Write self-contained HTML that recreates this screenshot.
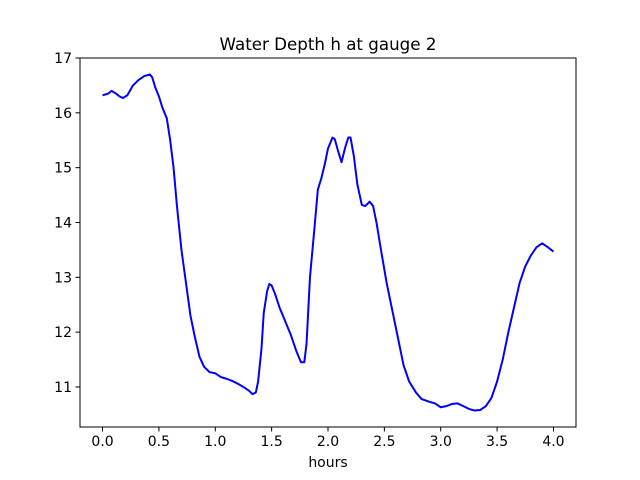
<!DOCTYPE html>
<html><head><meta charset="utf-8"><style>
body{margin:0;background:#fff}
svg{display:block;font-family:"DejaVu Sans","Liberation Sans",sans-serif}
</style></head><body>
<svg id="chart" width="640" height="480">
<rect width="640" height="480" fill="#fff"/>
</svg>
<script>
const times=[0,0.05,0.08,0.12,0.15,0.18,0.22,0.27,0.32,0.37,0.42,0.44,0.47,0.5,0.53,0.57,0.6,0.63,0.66,0.7,0.74,0.78,0.82,0.86,0.9,0.95,1.0,1.05,1.1,1.15,1.2,1.25,1.3,1.33,1.36,1.38,1.41,1.43,1.46,1.48,1.5,1.53,1.57,1.62,1.67,1.72,1.76,1.79,1.81,1.84,1.88,1.91,1.94,1.97,2.0,2.04,2.06,2.09,2.12,2.15,2.18,2.2,2.23,2.26,2.3,2.33,2.37,2.4,2.43,2.47,2.52,2.57,2.62,2.67,2.72,2.78,2.83,2.9,2.95,3.0,3.05,3.1,3.15,3.2,3.25,3.3,3.35,3.4,3.45,3.5,3.55,3.6,3.65,3.7,3.75,3.8,3.85,3.9,3.95,4.0];
const depth=[16.32,16.35,16.4,16.35,16.3,16.27,16.32,16.5,16.6,16.67,16.7,16.65,16.45,16.3,16.1,15.9,15.5,15.0,14.3,13.5,12.9,12.3,11.9,11.55,11.37,11.27,11.25,11.18,11.15,11.11,11.06,11.0,10.93,10.87,10.9,11.1,11.7,12.35,12.75,12.88,12.85,12.7,12.45,12.2,11.95,11.65,11.45,11.45,11.8,13.0,13.9,14.6,14.8,15.05,15.35,15.55,15.52,15.3,15.1,15.35,15.55,15.55,15.2,14.7,14.32,14.3,14.38,14.3,14.0,13.5,12.9,12.4,11.9,11.4,11.1,10.9,10.78,10.73,10.7,10.63,10.65,10.69,10.7,10.65,10.6,10.57,10.58,10.65,10.8,11.1,11.5,12.0,12.45,12.9,13.2,13.4,13.55,13.62,13.55,13.47];
const xTicks=[0,0.5,1,1.5,2,2.5,3,3.5,4];
const xTickLabels=["0.0","0.5","1.0","1.5","2.0","2.5","3.0","3.5","4.0"];
const yTicks=[11,12,13,14,15,16,17];
const yTickLabels=["11","12","13","14","15","16","17"];
const L=80,R=576,T=58,B=427;
const xMin=-0.2,xMax=4.2,yMin=10.27,yMax=17.0;
const sx=v=>L+(v-xMin)/(xMax-xMin)*(R-L);
const sy=v=>B-(v-yMin)/(yMax-yMin)*(B-T);
const svg=document.getElementById('chart');
const NS='http://www.w3.org/2000/svg';
function mk(tag,attrs,parent){const e=document.createElementNS(NS,tag);for(const k in attrs)e.setAttribute(k,attrs[k]);(parent||svg).appendChild(e);return e;}
const line=mk('polyline',{points:times.map((t,i)=>sx(t).toFixed(2)+','+sy(depth[i]).toFixed(2)).join(' '),fill:'none',stroke:'#0000ff','stroke-width':2,'stroke-linejoin':'round'});


const frame=mk('rect',{x:L,y:T,width:R-L,height:B-T,fill:'none',stroke:'#000','stroke-width':1});


xTicks.forEach((v,i)=>{
  const x=sx(v);
  const tk=mk('line',{x1:x,x2:x,y1:B,y2:B+4.5,stroke:'#000','stroke-width':1});
  
  
  const tx=mk('text',{x:x,y:B+19,'text-anchor':'middle','font-size':14});
  tx.textContent=xTickLabels[i];
  
  
});
yTicks.forEach((v,i)=>{
  const y=sy(v);
  const tk=mk('line',{x1:L-4.5,x2:L,y1:y,y2:y,stroke:'#000','stroke-width':1});
  
  
  const tx=mk('text',{x:L-8,y:y+5,'text-anchor':'end','font-size':14});
  tx.textContent=yTickLabels[i];
  
  
});
const xl=mk('text',{x:(L+R)/2,y:467,'text-anchor':'middle','font-size':14});
xl.textContent='hours';


const ti=mk('text',{x:(L+R)/2,y:50,'text-anchor':'middle','font-size':16.7});
ti.textContent='Water Depth h at gauge 2';


</script>
</body></html>
